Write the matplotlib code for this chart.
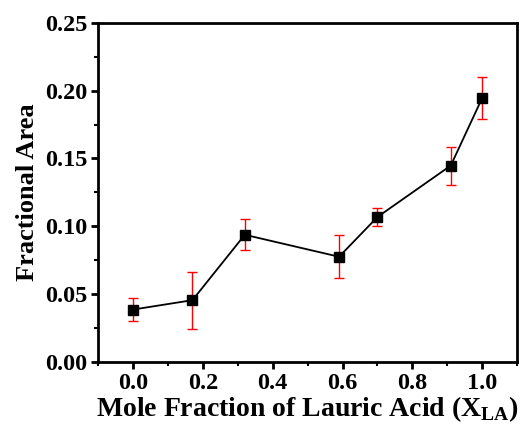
import matplotlib
matplotlib.use("Agg")
import matplotlib.pyplot as plt
from matplotlib.ticker import MultipleLocator

# data
x_la = [0.0, 0.17, 0.32, 0.59, 0.70, 0.91, 1.0]
frac_area = [0.0387, 0.0456, 0.0938, 0.0776, 0.1069, 0.1448, 0.1946]
frac_err = [0.0087, 0.021, 0.0115, 0.016, 0.0065, 0.014, 0.0155]

plt.rcParams['font.family'] = ['Liberation Serif', 'DejaVu Serif']
plt.rcParams['font.weight'] = 'bold'
plt.rcParams['mathtext.fontset'] = 'custom'
plt.rcParams['mathtext.rm'] = 'Liberation Serif:bold'
plt.rcParams['mathtext.bf'] = 'Liberation Serif:bold'

fig = plt.figure(figsize=(5.25, 4.3), dpi=100)
ax = fig.add_axes([0.187, 0.158, 0.798, 0.789])

ax.plot(x_la, frac_area, color='black', lw=1.3, zorder=2)
ax.errorbar(x_la, frac_area, yerr=frac_err, fmt='none', ecolor='red',
            elinewidth=1.0, capsize=3.5, capthick=1.0, zorder=3)
ax.plot(x_la, frac_area, 's', color='black', ms=7, zorder=4)

ax.set_xlim(-0.1, 1.1)
ax.set_ylim(0, 0.25)
ax.xaxis.set_minor_locator(MultipleLocator(0.1))
ax.yaxis.set_minor_locator(MultipleLocator(0.025))
ax.set_xticks([0.0, 0.2, 0.4, 0.6, 0.8, 1.0])
ax.set_xticklabels(['0.0', '0.2', '0.4', '0.6', '0.8', '1.0'])
ax.set_yticks([0.0, 0.05, 0.10, 0.15, 0.20, 0.25])
ax.set_yticklabels(['0.00', '0.05', '0.10', '0.15', '0.20', '0.25'])

for s in ax.spines.values():
    s.set_linewidth(2.0)
ax.tick_params(which='major', direction='out', length=5, width=2, labelsize=17.5,
               pad=3, top=False, right=False)
ax.tick_params(which='minor', direction='out', length=3, width=1.5,
               top=False, right=False)

ax.set_xlabel(r'Mole Fraction of Lauric Acid (X$_{\mathrm{LA}}$)',
              fontsize=20, fontweight='bold', labelpad=0)
ax.set_ylabel('Fractional Area', fontsize=19, fontweight='bold', labelpad=4)

fig.savefig('out.png', dpi=100)
